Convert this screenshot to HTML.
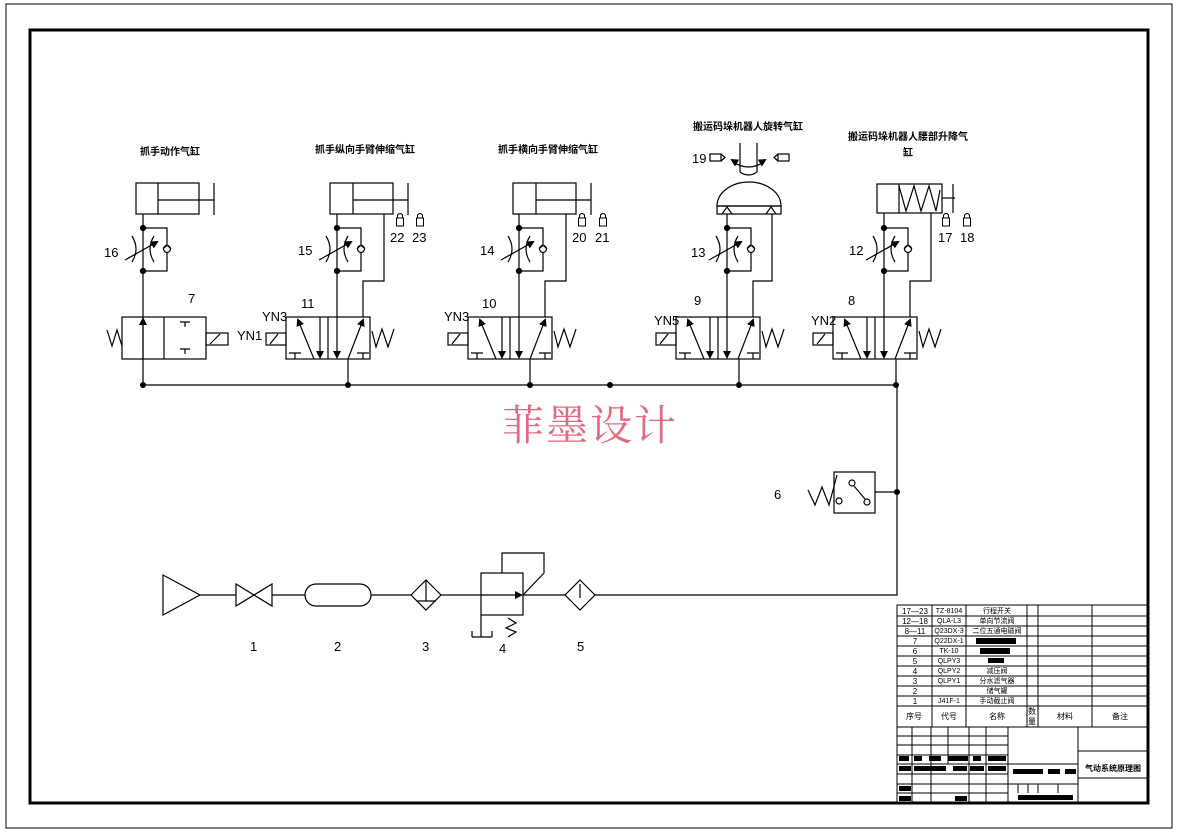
<!DOCTYPE html>
<html><head><meta charset="utf-8"><style>
html,body{margin:0;padding:0;background:#fff;}
svg{display:block;}
text{font-family:"Liberation Sans","Noto Sans CJK SC",sans-serif;fill:#000;}
.t{font-size:13px;}
.cn{font-size:10px;font-weight:bold;font-family:"Liberation Sans","Noto Sans CJK SC",sans-serif;}
.s{font-size:7px;}
</style></head><body>
<svg width="1178" height="833" viewBox="0 0 1178 833" xmlns="http://www.w3.org/2000/svg">
<defs>
<marker id="ah" markerWidth="8" markerHeight="8" refX="6" refY="4" orient="auto" markerUnits="userSpaceOnUse"><path d="M0,0 L8,4 L0,8 z" fill="#000"/></marker>
<g id="v52" fill="none" stroke="#000" stroke-width="1.2">
  <rect x="0" y="0" width="84" height="42"/>
  <line x1="42" y1="0" x2="42" y2="42"/>
  <line x1="28" y1="42" x2="12" y2="3" marker-end="url(#ah)"/>
  <line x1="34" y1="0" x2="34" y2="40" marker-end="url(#ah)"/>
  <line x1="51" y1="0" x2="51" y2="40" marker-end="url(#ah)"/>
  <line x1="62" y1="42" x2="77" y2="3" marker-end="url(#ah)"/>
  <path d="M3,36 H15 M9,36 V42 M71,36 H83 M77,36 V42"/>
  <rect x="-20" y="16" width="20" height="12"/>
  <line x1="-16" y1="27" x2="-8" y2="17"/>
  <path d="M86,14 L90,30 L96,12 L102,30 L108,12"/>
</g>
<g id="fc" fill="none" stroke="#000" stroke-width="1.2">
  <circle cx="0" cy="0" r="2.5" fill="#000"/>
  <circle cx="0" cy="43" r="2.5" fill="#000"/>
  <path d="M0,0 H24 V43 H0"/>
  <circle cx="24" cy="21" r="3.5" fill="#fff"/>
  <path d="M20,21 L24,17 L28,21" />
  <path d="M-11,8 Q-3,21 -11,34 M11,8 Q3,21 11,34"/>
  <line x1="-18" y1="32" x2="14" y2="14" marker-end="url(#ah)"/>
</g>
<g id="lock" fill="none" stroke="#000" stroke-width="1">
  <rect x="-3.5" y="5" width="7" height="8"/>
  <path d="M-2.5,5 V2 Q0,-1 2.5,2 V5"/>
</g>
</defs>

<rect x="6" y="4" width="1166" height="824" fill="none" stroke="#000" stroke-width="1"/>
<rect x="30" y="30" width="1118" height="773" fill="none" stroke="#000" stroke-width="3"/>

<g fill="none" stroke="#000" stroke-width="1.2">
<line x1="143" y1="385" x2="897" y2="385"/>
<path d="M897,385 V595 H595"/>
<rect x="136" y="183" width="63" height="31"/>
<line x1="158" y1="183" x2="158" y2="214"/>
<line x1="158" y1="200" x2="214" y2="200"/>
<line x1="214" y1="183" x2="214" y2="215"/>
<line x1="143" y1="214" x2="143" y2="385"/>
<rect x="122" y="317" width="84" height="42"/>
<line x1="164" y1="317" x2="164" y2="359"/>
<line x1="143" y1="359" x2="143" y2="319" marker-end="url(#ah)"/>
<path d="M185,322 V327 M180,322 H190 M185,354 V349 M180,349 H190"/>
<rect x="206" y="333" width="22" height="12"/>
<line x1="210" y1="344" x2="220" y2="334"/>
<path d="M107,330 L112,346 L117,330 L122,346"/>
<rect x="330" y="183" width="63" height="31"/>
<line x1="353" y1="183" x2="353" y2="214"/>
<line x1="353" y1="200" x2="408" y2="200"/>
<line x1="408" y1="183" x2="408" y2="215"/>
<line x1="337" y1="214" x2="337" y2="317"/>
<path d="M384,214 V281 H363 V317"/>
<line x1="348" y1="359" x2="348" y2="385"/>
<rect x="513" y="183" width="63" height="31"/>
<line x1="536" y1="183" x2="536" y2="214"/>
<line x1="536" y1="200" x2="591" y2="200"/>
<line x1="591" y1="183" x2="591" y2="215"/>
<line x1="519" y1="214" x2="519" y2="317"/>
<path d="M566,214 V281 H545 V317"/>
<line x1="530" y1="359" x2="530" y2="385"/>
<path d="M740,143 V172 M757,143 V172 M740,172 Q748.5,178 757,172"/>
<path d="M717,206 A32,24 0 0 1 781,206 Z"/>
<rect x="717" y="206" width="64" height="8"/>
<path d="M722,214 L727,207 L732,214 M766,214 L771,207 L776,214"/>
<path d="M733,162 Q748.5,172 764,162"/>
<line x1="737" y1="163" x2="732" y2="160" marker-end="url(#ah)"/>
<line x1="760" y1="163" x2="765" y2="160" marker-end="url(#ah)"/>
<rect x="710" y="154" width="11" height="7"/><path d="M721,154 L725,157.5 L721,161"/>
<rect x="778" y="154" width="11" height="7"/><path d="M778,154 L774,157.5 L778,161"/>
<line x1="727" y1="214" x2="727" y2="317"/>
<path d="M772,214 V281 H753 V317"/>
<line x1="739" y1="359" x2="739" y2="385"/>
<rect x="877" y="184" width="65" height="29"/>
<line x1="899" y1="184" x2="899" y2="213"/>
<path d="M899,186 L906,211 L914,186 L921,211 L929,186 L936,211 L940,190"/>
<line x1="942" y1="198" x2="955" y2="198"/>
<line x1="953" y1="184" x2="953" y2="213"/>
<line x1="884" y1="213" x2="884" y2="317"/>
<path d="M931,213 V281 H910 V317"/>
<line x1="896" y1="359" x2="896" y2="385"/>
<rect x="834" y="472" width="41" height="41"/>
<path d="M808,490 L815,505 L822,487 L829,505 L837,475"/>
<circle cx="839" cy="501" r="3"/>
<circle cx="852" cy="483" r="3"/>
<circle cx="867" cy="502" r="3"/>
<line x1="854" y1="486" x2="865" y2="499"/>
<line x1="875" y1="492" x2="897" y2="492"/>
<path d="M163,575 L200,595 L163,615 Z"/>
<line x1="200" y1="595" x2="236" y2="595"/>
<path d="M236,584 L272,606 V584 L236,606 Z"/>
<line x1="272" y1="595" x2="305" y2="595"/>
<rect x="305" y="584" width="66" height="22" rx="11"/>
<line x1="371" y1="595" x2="411" y2="595"/>
<path d="M426,580 L441,595 L426,610 L411,595 Z"/>
<path d="M426,580 V601 M416,601 H436"/>
<line x1="441" y1="595" x2="481" y2="595"/>
<rect x="481" y="573" width="42" height="42"/>
<path d="M502,573 V553 H544 V573 L523,595"/>
<line x1="481" y1="595" x2="521" y2="595" marker-end="url(#ah)"/>
<path d="M481,615 V637 M472,637 H492 M472,637 V631 M492,637 V631"/>
<path d="M508,618 L516,623 L506,628 L516,632 L508,637"/>
<line x1="523" y1="595" x2="565" y2="595"/>
<path d="M580,580 L595,595 L580,610 L565,595 Z"/>
<line x1="580" y1="584" x2="580" y2="598"/>
</g>

<use href="#v52" x="286" y="317"/>
<use href="#v52" x="468" y="317"/>
<use href="#v52" x="676" y="317"/>
<use href="#v52" x="833" y="317"/>
<use href="#fc" x="143" y="228"/>
<use href="#fc" x="337" y="228"/>
<use href="#fc" x="519" y="228"/>
<use href="#fc" x="727" y="228"/>
<use href="#fc" x="884" y="228"/>
<use href="#lock" x="400" y="213"/><use href="#lock" x="420" y="213"/>
<use href="#lock" x="582" y="213"/><use href="#lock" x="603" y="213"/>
<use href="#lock" x="946" y="213"/><use href="#lock" x="967" y="213"/>
<g fill="#000">
<circle cx="143" cy="385" r="3"/><circle cx="348" cy="385" r="3"/><circle cx="530" cy="385" r="3"/>
<circle cx="610" cy="385" r="3"/><circle cx="739" cy="385" r="3"/><circle cx="896" cy="385" r="3"/>
<circle cx="897" cy="492" r="3"/>
</g>

<g class="t">
<text x="104" y="257">16</text><text x="298" y="255">15</text><text x="480" y="255">14</text>
<text x="691" y="257">13</text><text x="849" y="255">12</text>
<text x="188" y="303">7</text><text x="301" y="308">11</text><text x="482" y="308">10</text>
<text x="694" y="305">9</text><text x="848" y="305">8</text>
<text x="237" y="340">YN1</text><text x="262" y="321">YN3</text><text x="444" y="321">YN3</text>
<text x="654" y="325">YN5</text><text x="811" y="325">YN2</text>
<text x="390" y="242">22</text><text x="412" y="242">23</text>
<text x="572" y="242">20</text><text x="595" y="242">21</text>
<text x="938" y="242">17</text><text x="960" y="242">18</text>
<text x="692" y="163">19</text>
<text x="774" y="499">6</text>
<text x="250" y="651">1</text><text x="334" y="651">2</text><text x="422" y="651">3</text>
<text x="499" y="653">4</text><text x="577" y="651">5</text>
</g>
<g class="cn" text-anchor="middle">
<text x="170" y="155">抓手动作气缸</text>
<text x="365" y="153">抓手纵向手臂伸缩气缸</text>
<text x="548" y="153">抓手横向手臂伸缩气缸</text>
<text x="748" y="130">搬运码垛机器人旋转气缸</text>
<text x="908" y="140">搬运码垛机器人腰部升降气</text>
<text x="908" y="156">缸</text>
</g>
<text x="590" y="440" text-anchor="middle" style="font-size:42px;fill:#e06a80;font-family:'Noto Serif CJK SC','Noto Sans CJK SC',serif;letter-spacing:2px">菲墨设计</text>

<g fill="none" stroke="#000" stroke-width="1">
<rect x="897" y="605" width="251" height="198"/>
<path d="M897,616 H1148 M897,626 H1148 M897,636 H1148 M897,646 H1148 M897,656 H1148 M897,666 H1148 M897,676 H1148 M897,686 H1148 M897,696 H1148 M897,706 H1148 M897,727 H1148"/>
<path d="M932,605 V727 M966,605 V727 M1027,605 V727 M1038,605 V727 M1092,605 V727"/>
<path d="M897,736 H1008 M897,745 H1008 M897,755 H1008 M897,764 H1078 M897,774 H1008 M897,784 H1078 M897,793 H1008"/>
<path d="M912,727 V803 M931,727 V803 M948,727 V764 M969,727 V803 M986,727 V803 M1008,727 V803 M1078,727 V803"/>
<path d="M1078,751 H1148 M1078,778 H1148 M1018,784 V793 M1028,784 V793 M1038,784 V793 M1058,784 V793"/>
</g>
<g fill="#000">
<rect x="976" y="638" width="40" height="6"/><rect x="980" y="648" width="30" height="6"/><rect x="988" y="658" width="16" height="5"/>
<rect x="899" y="756" width="10" height="5"/><rect x="914" y="756" width="8" height="5"/><rect x="929" y="756" width="12" height="5"/>
<rect x="948" y="756" width="20" height="5"/><rect x="973" y="756" width="8" height="5"/><rect x="988" y="756" width="18" height="5"/>
<rect x="899" y="766" width="12" height="5"/><rect x="914" y="766" width="32" height="5"/><rect x="953" y="766" width="14" height="5"/>
<rect x="970" y="766" width="14" height="5"/><rect x="988" y="766" width="18" height="5"/>
<rect x="1013" y="769" width="30" height="5"/><rect x="1048" y="769" width="12" height="5"/><rect x="1065" y="769" width="11" height="5"/>
<rect x="899" y="786" width="12" height="5"/><rect x="899" y="796" width="12" height="5"/><rect x="955" y="796" width="12" height="5"/>
<rect x="1018" y="795" width="55" height="5"/>
</g>
<g style="font-size:8px" text-anchor="middle">
<text x="915" y="614">17—23</text><text x="915" y="624">12—18</text><text x="915" y="634">8—11</text>
<text x="915" y="644">7</text><text x="915" y="654">6</text><text x="915" y="664">5</text><text x="915" y="674">4</text>
<text x="915" y="684">3</text><text x="915" y="694">2</text><text x="915" y="704">1</text>
</g>
<g class="s" text-anchor="middle">
<text x="949" y="613">TZ-8104</text><text x="949" y="623">QLA-L3</text><text x="949" y="633">Q23DX-3</text>
<text x="949" y="643">Q22DX-1</text><text x="949" y="653">TK-10</text><text x="949" y="663">QLPY3</text>
<text x="949" y="673">QLPY2</text><text x="949" y="683">QLPY1</text><text x="949" y="703">J41F-1</text>
<text x="997" y="613" fill="#555">行程开关</text><text x="997" y="623" fill="#555">单向节流阀</text><text x="997" y="633" fill="#555">二位五通电磁阀</text>
<text x="997" y="673" fill="#555">减压阀</text><text x="997" y="683" fill="#555">分水滤气器</text><text x="997" y="693" fill="#555">储气罐</text><text x="997" y="703" fill="#555">手动截止阀</text>
</g>
<g style="font-size:8px" text-anchor="middle">
<text x="914" y="719">序号</text><text x="949" y="719">代号</text><text x="997" y="719">名称</text>
<text x="1032" y="714">数</text><text x="1032" y="724">量</text><text x="1065" y="719">材料</text><text x="1120" y="719">备注</text>
</g>
<text x="1113" y="771" text-anchor="middle" class="cn" style="font-size:8px">气动系统原理图</text>
</svg>
</body></html>
